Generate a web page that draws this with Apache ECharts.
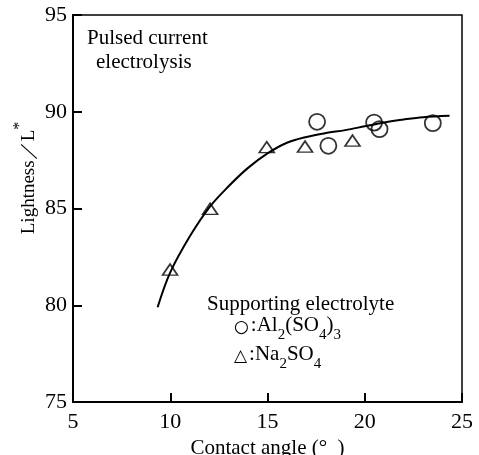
<!DOCTYPE html>
<html>
<head>
<meta charset="utf-8">
<script src="https://cdn.jsdelivr.net/npm/echarts@6/dist/echarts.min.js"></script>
<style>
html, body { margin: 0; padding: 0; background: #fff; }
#chart { width: 479px; height: 455px; }
</style>
</head>
<body>
<div id="chart"></div>
<script>
// Al2(SO4)3 points (circles)
var alPoints = [[17.55, 89.48], [18.13, 88.24], [20.48, 89.44], [20.76, 89.10], [23.5, 89.41]];
// Na2SO4 points (triangles)
var naPoints = [[9.99, 81.84], [12.05, 84.98], [14.96, 88.17], [16.93, 88.2], [19.37, 88.51]];
// fitted curve
var fitCurve = [[9.35, 79.9], [10, 81.7], [11, 83.55], [12, 85.05], [13, 86.15], [14, 87.1], [15, 87.85],
    [16, 88.4], [17, 88.7], [18, 88.9], [19, 89.05], [20, 89.25], [21, 89.45], [22, 89.6], [23, 89.72], [24.36, 89.79]];
var xRange = [5, 25, 5];
var yRange = [75, 95, 5];

var serif = '"Liberation Serif", "DejaVu Serif", serif';
var myChart = echarts.init(document.getElementById('chart'));

var sub = { fontSize: 15, fontFamily: serif, lineHeight: 15, padding: [13, 0, 0, 0], verticalAlign: 'top' };
var norm = { fontSize: 21, fontFamily: serif, lineHeight: 24, verticalAlign: 'top' };
var sym = { fontSize: 17, fontFamily: '"DejaVu Sans", sans-serif', lineHeight: 24, padding: [4, 2, 0, 3], verticalAlign: 'top' };

option = {
    animation: false,
    grid: {
        left: 73, right: 17, top: 15, bottom: 53,
        outerBoundsMode: 'none', containLabel: false,
        show: true, borderColor: '#000', borderWidth: 1.5
    },
    xAxis: {
        type: 'value',
        min: xRange[0], max: xRange[1], interval: xRange[2],
        name: 'Contact angle (°  )',
        nameLocation: 'middle',
        nameGap: 23,
        nameTextStyle: { color: '#000', fontSize: 21, fontFamily: serif },
        axisLine: { lineStyle: { color: '#000', width: 2 } },
        axisTick: { inside: true, length: 9, lineStyle: { color: '#000', width: 2 } },
        axisLabel: { color: '#000', fontSize: 22, fontFamily: serif, margin: 9 },
        splitLine: { show: false }
    },
    yAxis: {
        type: 'value',
        min: yRange[0], max: yRange[1], interval: yRange[2],
        axisLine: { lineStyle: { color: '#000', width: 2 } },
        axisTick: { inside: true, length: 9, lineStyle: { color: '#000', width: 2 } },
        axisLabel: { color: '#000', fontSize: 22, fontFamily: serif, margin: 6 },
        splitLine: { show: false }
    },
    graphic: [
        { type: 'text', left: 87, top: 28, style: { text: 'Pulsed current', fontSize: 21, fontFamily: serif, fill: '#000' } },
        { type: 'text', left: 96, top: 52, style: { text: 'electrolysis', fontSize: 21, fontFamily: serif, fill: '#000' } },
        { type: 'text', left: 207, top: 294, style: { text: 'Supporting electrolyte', fontSize: 21, fontFamily: serif, fill: '#000' } },
        { type: 'text', left: 231, top: 315, style: {
            text: '{c|○}{a|:Al}{s|2}{a|(SO}{s|4}{a|)}{s|3}', fill: '#000',
            rich: { a: norm, s: sub, c: sym } } },
        { type: 'text', left: 231, top: 344, style: {
            text: '{c|△}{a|:Na}{s|2}{a|SO}{s|4}', fill: '#000',
            rich: { a: norm, s: sub, c: sym } } },
        { type: 'text', x: 28, y: 178, rotation: Math.PI / 2, style: {
            text: '{a|Lightness／L}{p|*}', fill: '#000', align: 'center', verticalAlign: 'middle',
            rich: {
                a: { fontSize: 19, fontFamily: serif, lineHeight: 22, verticalAlign: 'bottom' },
                p: { fontSize: 16, fontFamily: serif, lineHeight: 15, padding: [0, 0, 11, 0], verticalAlign: 'bottom' }
            } } }
    ],
    series: [
        {
            type: 'line', data: fitCurve, smooth: 0.35, showSymbol: false,
            lineStyle: { color: '#000', width: 2 }, z: 3
        },
        {
            type: 'scatter', data: alPoints, symbol: 'circle', symbolSize: 16,
            itemStyle: { color: 'transparent', borderColor: '#000', borderWidth: 1.8 }, z: 4
        },
        {
            type: 'scatter', data: naPoints, symbol: 'triangle', symbolSize: [15, 11],
            itemStyle: { color: 'transparent', borderColor: '#000', borderWidth: 1.6 }, z: 4
        }
    ]
};
myChart.setOption(option);
</script>
</body>
</html>
